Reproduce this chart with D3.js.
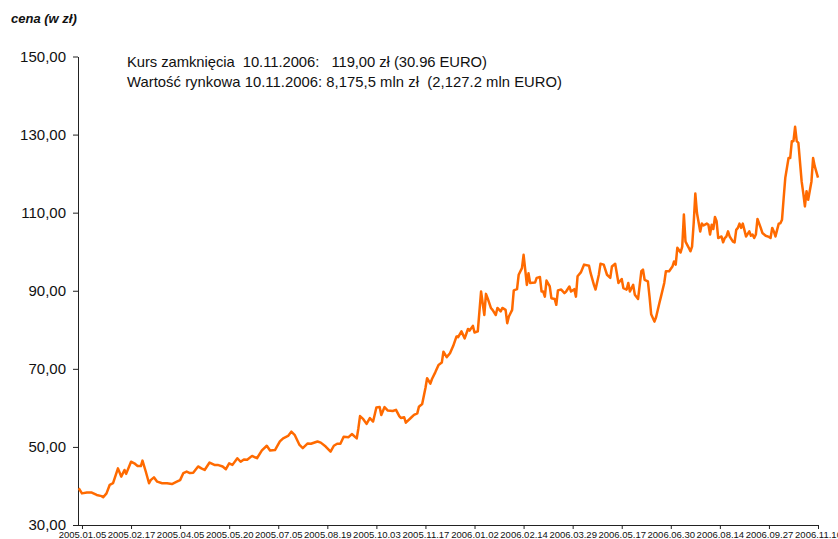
<!DOCTYPE html>
<html>
<head>
<meta charset="utf-8">
<script src="https://cdn.jsdelivr.net/npm/d3@7"></script>
<style>
  html, body { margin: 0; padding: 0; background: #fff; }
  svg { display: block; font-family: "Liberation Sans", Arial, sans-serif; }
</style>
</head>
<body>
<svg id="chart" width="838" height="539"></svg>
<script>
// ---- data ----
// trading-day index (0 = 2005-01-03) and closing price in zł
const days = [0,2,5,8,11,14,15,17,19,21,24,26,28,29,32,34,36,38,39,41,43,44,46,48,51,54,57,60,62,64,66,68,70,73,75,77,80,83,85,88,90,92,94,97,99,101,103,106,109,112,115,117,120,123,125,128,130,132,135,137,140,142,146,148,151,154,156,158,160,162,165,167,170,171,172,174,176,178,180,182,184,185,187,189,192,194,196,197,199,200,203,205,207,208,210,212,213,215,216,218,220,222,223,225,227,229,231,232,234,236,238,239,241,242,244,246,247,248,249,250,252,253,255,256,258,259,261,262,263,265,266,268,269,271,272,273,274,275,276,279,280,282,283,284,285,286,288,289,291,292,293,295,297,298,300,301,303,304,305,307,309,312,313,315,316,318,319,321,323,325,326,328,330,332,333,335,336,337,339,340,342,344,345,346,348,349,350,352,353,355,356,358,359,361,363,364,365,366,368,369,370,371,373,374,375,376,377,378,380,381,382,384,385,386,387,388,389,390,391,393,394,395,396,397,398,400,401,402,403,404,405,406,407,408,410,411,412,413,414,415,417,418,420,422,423,424,425,426,427,428,429,430,431,432,434,435,436,437,438,439,440,442,443,444,445,446,448,449,450,452];
const prices = [39.4,38.1,38.3,38.3,37.7,37.4,37.1,38.1,40.3,40.7,44.5,42.4,44.1,43.1,46.2,45.8,45.1,45.1,46.5,43.7,40.7,41.5,42.2,41.1,40.7,40.7,40.5,41.1,41.5,43.3,43.7,43.3,43.4,45.0,44.5,44.1,46.0,45.4,45.4,45.0,44.3,45.8,45.4,47.1,46.2,46.8,46.7,47.7,47.1,49.1,50.3,49.1,49.2,51.4,52.2,52.8,53.9,53.1,50.5,49.7,50.9,50.8,51.4,51.1,50.1,48.8,50.3,50.8,50.8,52.6,52.5,53.3,52.2,54.8,57.9,57.1,55.9,57.4,56.5,60.1,60.2,58.2,60.2,59.3,59.2,59.5,57.9,57.4,57.6,56.2,57.4,58.2,58.6,60.3,61.0,65.1,67.6,66.2,67.4,69.1,71.0,71.6,74.4,73.0,74.0,75.9,78.3,78.1,79.6,77.8,80.2,79.8,81.0,79.3,79.6,89.8,86.8,83.8,89.2,88.1,85.6,85.1,83.8,85.6,84.7,85.6,85.1,81.7,83.4,85.1,90.1,90.4,94.1,95.8,99.2,95.4,91.5,94.5,92.0,92.1,93.3,93.5,89.8,89.8,88.5,92.6,91.1,88.1,87.9,86.4,90.1,90.3,89.4,89.8,91.1,89.8,90.4,88.5,93.7,94.7,96.7,96.4,94.5,91.5,90.3,94.1,96.9,96.7,94.1,93.3,96.2,96.9,92.0,93.0,90.7,90.3,92.0,89.8,91.5,89.0,87.9,95.0,95.4,92.8,92.4,88.5,84.0,82.1,83.2,86.8,88.5,92.0,95.0,95.0,96.2,97.5,96.7,101.0,99.8,101.3,109.5,102.6,101.0,100.1,101.3,107.3,114.9,109.9,105.2,107.2,106.7,107.2,106.9,104.4,106.9,105.8,108.9,107.8,103.5,103.9,102.4,103.5,103.9,105.2,103.9,102.6,102.4,105.6,106.1,107.2,106.1,107.2,105.6,103.9,105.2,104.1,104.4,103.5,104.4,108.4,106.1,104.8,104.1,103.8,103.5,106.1,105.2,103.9,105.6,107.2,107.3,108.2,113.7,118.9,124.0,124.0,128.3,128.3,132.0,128.3,127.9,118.0,115.0,111.6,115.5,113.3,118.0,124.0,121.9,119.0];

const tickDays = [2,32,62,92,122,152,182,212,242,272,302,332,362,392,422,452];
const tickLabels = ["2005.01.05","2005.02.17","2005.04.05","2005.05.20","2005.07.05","2005.08.19","2005.10.03","2005.11.17","2006.01.02","2006.02.14","2006.03.29","2006.05.17","2006.06.30","2006.08.14","2006.09.27","2006.11.10"];
const yTicks = [30,50,70,90,110,130,150];

const yTitle = "cena (w zł)";
const noteLines = [
  "Kurs zamknięcia  10.11.2006:   119,00 zł (30.96 EURO)",
  "Wartość rynkowa 10.11.2006: 8,175,5 mln zł  (2,127.2 mln EURO)"
];
const noteWidths = [360, 435];

// ---- drawing ----
const svg = d3.select("#chart");
const x = d3.scaleLinear().domain([0, 452]).range([78.7, 818]);
const y = d3.scaleLinear().domain([30, 150]).range([525, 56.5]);

const plLocale = d3.formatLocale({decimal: ",", thousands: " ", grouping: [3], currency: ["", " zł"]});
const fmt = plLocale.format(".2f");

// y axis
const yAxis = svg.append("g")
  .attr("transform", "translate(78,0)")
  .call(d3.axisLeft(y).tickValues(yTicks).tickFormat(fmt).tickSize(5).tickSizeOuter(0).tickPadding(7));
yAxis.select(".domain").attr("stroke", "#222");
yAxis.selectAll(".tick line").attr("stroke", "#222");
yAxis.selectAll("text").attr("font-size", 15).attr("fill", "#111")
  .attr("font-family", "'Liberation Sans', Arial, sans-serif");

// x axis
const xAxis = svg.append("g")
  .attr("transform", "translate(0,525)")
  .call(d3.axisBottom(x).tickValues(tickDays)
    .tickFormat((d, i) => tickLabels[i]).tickSize(4).tickSizeOuter(0).tickPadding(2));
xAxis.select(".domain").attr("d", "M78,0.5H819").attr("stroke", "#222");
xAxis.selectAll(".tick line").attr("stroke", "#222");
xAxis.selectAll("text").attr("font-size", 9.5).attr("fill", "#111")
  .attr("font-family", "'Liberation Sans', Arial, sans-serif");

// price line
const line = d3.line()
  .x((d, i) => x(days[i]))
  .y(d => y(d));
svg.append("path")
  .datum(prices)
  .attr("d", line)
  .attr("fill", "none")
  .attr("stroke", "#FF6A00")
  .attr("stroke-width", 2.5)
  .attr("stroke-linejoin", "round");

// y title
svg.append("text")
  .attr("x", 11).attr("y", 23)
  .attr("font-size", 13).attr("font-weight", "bold").attr("font-style", "italic")
  .attr("fill", "#111")
  .text(yTitle);

// annotation
svg.append("g").selectAll("text").data(noteLines).join("text")
  .attr("x", 127)
  .attr("y", (d, i) => 67 + i * 19.5)
  .attr("font-size", 14.8)
  .attr("fill", "#111")
  .attr("textLength", (d, i) => noteWidths[i])
  .attr("lengthAdjust", "spacing")
  .style("white-space", "pre")
  .attr("xml:space", "preserve")
  .text(d => d);
</script>
</body>
</html>
